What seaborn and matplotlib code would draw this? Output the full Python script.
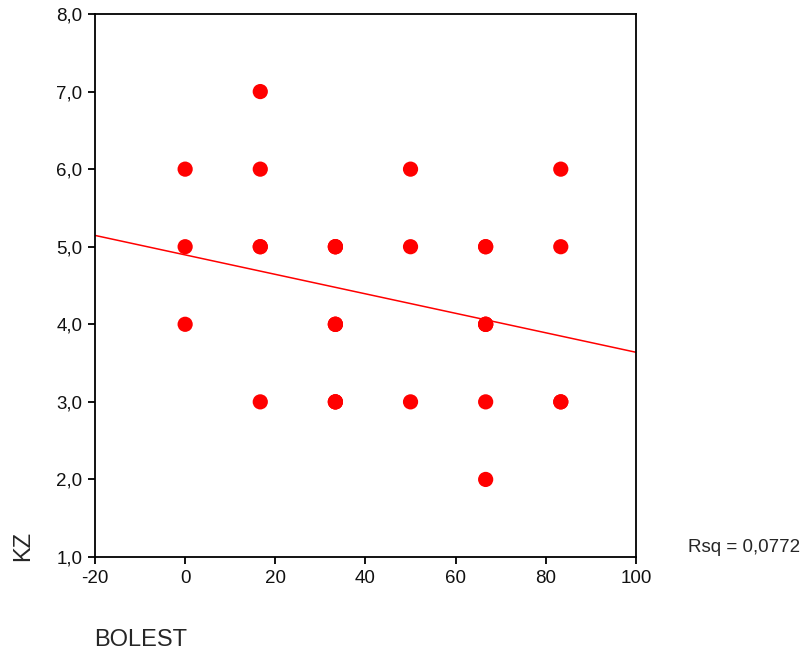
import pandas as pd
import matplotlib.pyplot as plt
import matplotlib.ticker as mticker
import seaborn as sns

sns.set_style("white")
plt.rcParams['font.family'] = ['Liberation Sans', 'DejaVu Sans']
plt.rcParams['axes.unicode_minus'] = False

# BOLEST values (x), KZ values (y), and how many cases sit on each point
bolest = [0, 0, 0,
          16.667, 16.667, 16.667, 16.667,
          33.333, 33.333, 33.333,
          50, 50, 50,
          66.667, 66.667, 66.667, 66.667,
          83.333, 83.333, 83.333]
kz = [6, 5, 4,
      7, 6, 5, 3,
      5, 4, 3,
      6, 5, 3,
      5, 4, 3, 2,
      6, 5, 3]
counts = [1, 1, 1,
          1, 1, 2, 1,
          3, 3, 3,
          1, 1, 1,
          2, 3, 1, 1,
          1, 1, 2]
rsq_text = 'Rsq = 0,0772'

rows = []
for x, y, n in zip(bolest, kz, counts):
    rows += [(x, y)] * n
df = pd.DataFrame(rows, columns=['BOLEST', 'KZ'])

fig = plt.figure(figsize=(8.07, 6.54), dpi=100)
ax = fig.add_axes([0.1177, 0.1483, 0.6703, 0.8303])
ax.set_xlim(-20, 100)
ax.set_ylim(1, 8)

sns.scatterplot(x='BOLEST', y='KZ', data=df, ax=ax, s=120, color='#ff0000',
                edgecolor='none', linewidth=0)
sns.regplot(x='BOLEST', y='KZ', data=df, ax=ax, scatter=False, ci=None,
            truncate=False, color='#ff0000', line_kws={'linewidth': 1.1})
ax.set_xlim(-20, 100)
ax.set_ylim(1, 8)

ax.set_xticks([-20, 0, 20, 40, 60, 80, 100])
ax.set_yticks([1, 2, 3, 4, 5, 6, 7, 8])
ax.yaxis.set_major_formatter(mticker.FuncFormatter(lambda v, p: f'{v:.1f}'.replace('.', ',')))
ax.tick_params(axis='both', direction='out', length=5, width=1.3, labelsize=13.5,
               color='black', labelcolor='#111111', left=True, bottom=True, pad=4)
for sp in ax.spines.values():
    sp.set_color('black')
    sp.set_linewidth(1.3)
ax.set_xlabel('')
ax.set_ylabel('')

fig.text(23 / 807, 1 - 561 / 654, 'KZ', rotation=90, fontsize=17, ha='center', va='bottom')
fig.text(94 / 807, 1 - 640 / 654, 'BOLEST', fontsize=17, ha='left', va='center')
fig.text(688 / 807, 1 - 547 / 654, rsq_text, fontsize=13.5, ha='left', va='center')

fig.savefig('out.png', dpi=100)
